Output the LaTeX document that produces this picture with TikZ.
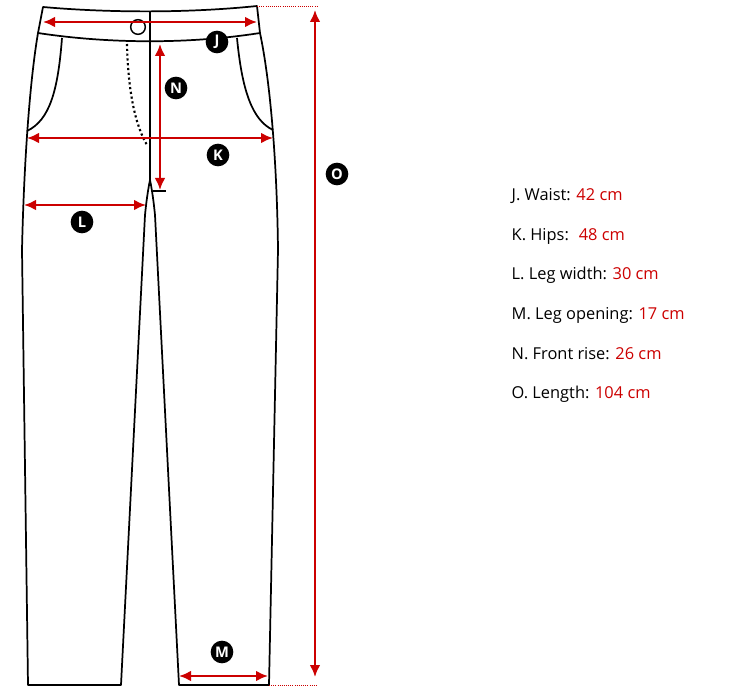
\documentclass[tikz,border=0pt]{standalone}
\usepackage{fontspec}
\setmainfont{Open Sans}
\usetikzlibrary{arrows.meta}
\definecolor{dimred}{RGB}{204,0,0}
\begin{document}
\begin{tikzpicture}[x=0.75pt,y=-0.75pt,
  outline/.style={draw=black,line width=1.3pt,line join=round},
  dim/.style={draw=dimred,line width=1.6pt,{Latex[length=9pt,width=8pt]}-{Latex[length=9pt,width=8pt]}},
  badge/.style={circle,fill=black,text=white,font=\bfseries\fontsize{11}{11}\selectfont,inner sep=0pt,minimum size=17pt},
  info/.style={anchor=base west,font=\fontsize{12.3}{13}\selectfont},
  guide/.style={draw=dimred,densely dotted,line width=0.6pt}]
\useasboundingbox (0,0) rectangle (740,699);
% waistband
\draw[outline] (43,7) .. controls (110,13) and (190,13) .. (257,6) -- (260,33)
  .. controls (190,44) and (110,44) .. (38,33) -- cycle;
% legs
\draw[outline] (38,33) .. controls (30,80) and (24,160) .. (22,250) -- (28,685) -- (121,685)
  -- (145,215) .. controls (147,195) and (149,185) .. (150,180)
  .. controls (151,185) and (153,195) .. (155,215) -- (179,685) -- (269,685)
  -- (278,250) .. controls (277,160) and (270,80) .. (260,33);
\draw[outline] (150,12) -- (150,180);
\node[circle,draw,line width=1.1pt,minimum size=11pt,inner sep=0pt] (btn) at (138,27) {};
% pockets
\draw[outline] (62,38) .. controls (58,90) and (50,120) .. (27,131);
\draw[outline] (237,38) .. controls (242,90) and (252,120) .. (273,130);
\draw[black,line width=1.6pt,dotted] (127,44) .. controls (128,90) and (135,125) .. (147,145);
% guides
\coordinate (ot) at (317,6); \coordinate (ob) at (317,685);
\draw[guide] (257,6) -- (ot);
\draw[guide] (269,685) -- (ob);
% dimensions
\coordinate (j1) at (43,22); \coordinate (j2) at (257,22);
\draw[dim] (j1) -- (j2);
\coordinate (k1) at (27,138); \coordinate (k2) at (273,138);
\draw[dim] (k1) -- (k2);
\coordinate (l1) at (24,205); \coordinate (l2) at (146,205);
\draw[dim] (l1) -- (l2);
\coordinate (m1) at (179,676); \coordinate (m2) at (268,676);
\draw[dim] (m1) -- (m2);
\coordinate (o1) at (315,10); \coordinate (o2) at (315,677);
\draw[dim] (o1) -- (o2);
\coordinate (n1) at (160,44); \coordinate (n2) at (160,190);
\draw[dim] (n1) -- (n2);
\draw[black,line width=0.9pt] (153,191) -- (166,191);
% badges
\node[badge] (J) at (217,42) {J};
\node[badge] (N) at (176,88) {N};
\node[badge] (K) at (218,155) {K};
\node[badge] (L) at (82,222) {L};
\node[badge] (O) at (337,174) {O};
\node[badge] (M) at (222,652) {M};
% legend
\node[info] (tj) at (507,200) {J. Waist: \textcolor{dimred}{42 cm}};
\node[info] (tk) at (507,240) {K. Hips: \ \textcolor{dimred}{48 cm}};
\node[info] (tl) at (507,279) {L. Leg width: \textcolor{dimred}{30 cm}};
\node[info] (tm) at (507,319) {M. Leg opening: \textcolor{dimred}{17 cm}};
\node[info] (tn) at (507,359) {N. Front rise: \textcolor{dimred}{26 cm}};
\node[info] (to) at (507,398) {O. Length: \textcolor{dimred}{104 cm}};
\end{tikzpicture}
\end{document}
